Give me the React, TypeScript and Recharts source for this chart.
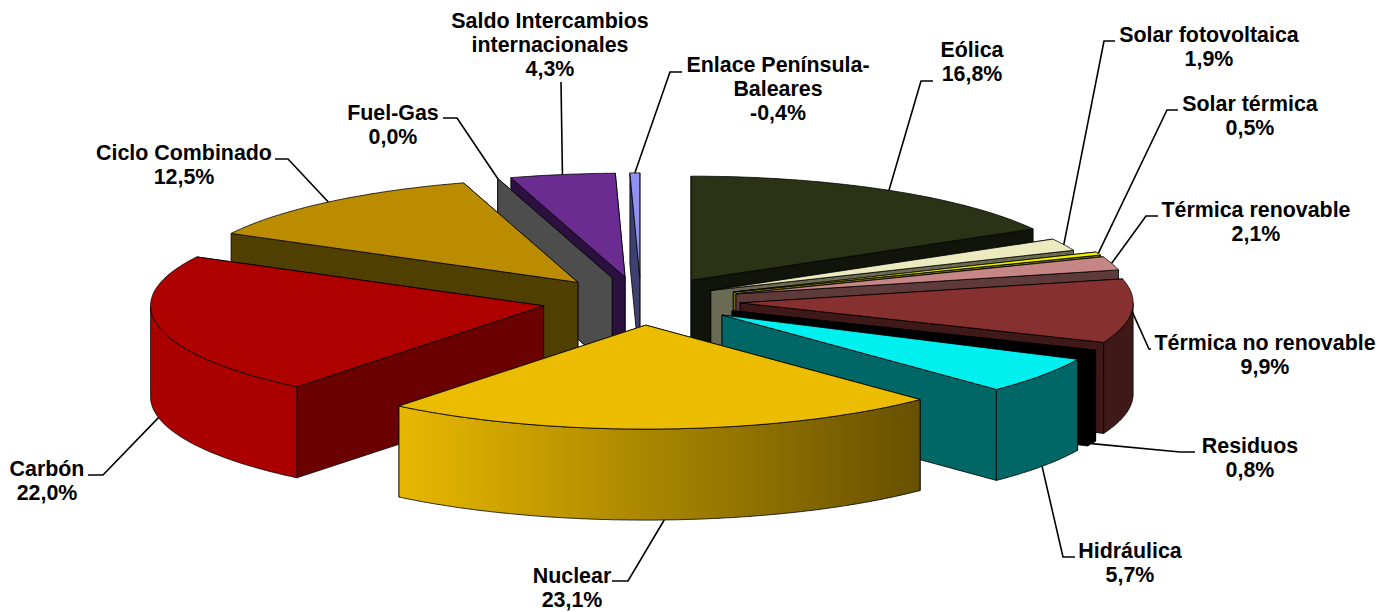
import React from 'react'
import { PieChart, Pie } from 'recharts'

const CATEGORIES = [
  'Eólica',
  'Solar fotovoltaica',
  'Solar térmica',
  'Térmica renovable',
  'Térmica no renovable',
  'Residuos',
  'Hidráulica',
  'Nuclear',
  'Carbón',
  'Ciclo Combinado',
  'Fuel-Gas',
  'Saldo Intercambios internacionales',
  'Enlace Península-Baleares'
]
const SHARES = [16.8, 1.9, 0.5, 2.1, 9.9, 0.8, 5.7, 23.1, 22.0, 12.5, 0.0, 4.3, -0.4]

const TOP_COLORS = ['#2b3316', '#ebebbf', '#f0f000', '#c68686', '#873030', '#000000', '#00f0f0', '#ecbc00', '#af0000', '#bc8c00', '#4d4d4d', '#6a2c91', '#9090f0']
const WALL_COLORS = ['#10140a', '#6b6b55', '#6b6b00', '#5e3a3a', '#3f1818', '#000000', '#006666', '#665000', '#6b0000', '#4f3f00', '#4d4d4d', '#2b1040', '#3f4070']
const RIM_COLORS = ['#10140a', '#6b6b55', '#6b6b00', '#5e3a3a', '#3f1818', '#000000', '#006666', 'url(#nuclearRim)', '#ab0000', '#4f3f00', '#4d4d4d', '#2b1040', '#3f4070']

// back to front
const PAINT_ORDER = [0, 1, 2, 3, 4, 5, 6, 12, 11, 10, 9, 8, 7]

// sideways pull-out of each slice, as a share of the radius
const EXPLODE_X = [0.253, 0.198, 0.253, 0.253, 0.253, 0.253, 0.253, 0.253, 0.253, 0.253, 0.253, 0.253, 0.253]

const LABEL_LINES = [
  ['Eólica'],
  ['Solar fotovoltaica'],
  ['Solar térmica'],
  ['Térmica renovable'],
  ['Térmica no renovable'],
  ['Residuos'],
  ['Hidráulica'],
  ['Nuclear'],
  ['Carbón'],
  ['Ciclo Combinado'],
  ['Fuel-Gas'],
  ['Saldo Intercambios', 'internacionales'],
  ['Enlace Península-', 'Baleares']
]
const LABEL_X = [972, 1209, 1250, 1256, 1265, 1250, 1130, 572, 47, 184, 393, 550, 778]
const LABEL_Y = [50, 35, 104, 210, 343, 446, 551, 576, 469, 153, 113, 21, 65]
// leader bend and end, after leaving the rim
const LEADER_POINTS = [
  [[921, 81], [933, 81]],
  [[1104, 41], [1115, 41]],
  [[1167, 110], [1178, 110]],
  [[1146, 216], [1158, 216]],
  [[1149, 349], [1151, 349]],
  [[1180, 452], [1195, 452]],
  [[1063, 557], [1075, 557]],
  [[628, 581], [612, 581]],
  [[103, 475], [88, 475]],
  [[288, 159], [275, 159]],
  [[457, 118], [443, 118]],
  [[561, 82], [561, 82]],
  [[670, 72], [682, 72]]
]

const WIDTH = 1394
const HEIGHT = 612
const SQUASH = 0.2646
const EXPLODE_Y = 0.232
const DEPTH = 91
const RAD = Math.PI / 180

const tableData = CATEGORIES.map((name, i) => ({ name, idx: i, value: Math.abs(SHARES[i]) }))

const apexOf = (p: any, i: number) => {
  const ry = p.outerRadius * SQUASH
  return {
    x: p.cx + p.outerRadius * EXPLODE_X[i] * Math.cos(p.midAngle * RAD),
    y: p.cy - ry * EXPLODE_Y * Math.sin(p.midAngle * RAD),
    rx: p.outerRadius,
    ry
  }
}

const toPath = (pts: number[][]) => 'M' + pts.map((q) => q[0].toFixed(1) + ' ' + q[1].toFixed(1)).join('L') + 'Z'

const Slice = ({ p, i }: { p: any; i: number }) => {
  const { x, y, rx, ry } = apexOf(p, i)
  const at = (deg: number) => [x + rx * Math.cos(deg * RAD), y - ry * Math.sin(deg * RAD)]
  const down = (q: number[]) => [q[0], q[1] + DEPTH]

  const arc: number[][] = []
  const front: number[][] = []
  const steps = Math.max(1, Math.ceil(Math.abs(p.endAngle - p.startAngle) / 0.5))
  for (let s = 0; s <= steps; s++) {
    const a = p.startAngle + ((p.endAngle - p.startAngle) * s) / steps
    arc.push(at(a))
    if (Math.sin(a * RAD) <= 0) front.push(at(a))
  }
  const apex = [x, y]
  const ends = [arc[0], arc[arc.length - 1]].sort((a, b) => a[1] - b[1])
  const edge = { stroke: '#000', strokeWidth: 0.8, strokeLinejoin: 'round' as const }

  return (
    <g>
      <defs>
        <linearGradient id="nuclearRim" gradientUnits="userSpaceOnUse" x1={399} x2={921} y1={0} y2={0}>
          <stop offset="0%" stopColor="#e8b800" />
          <stop offset="100%" stopColor="#665000" />
        </linearGradient>
      </defs>
      {ends.map((end, n) => (
        <path key={n} d={toPath([apex, end, down(end), down(apex)])} fill={WALL_COLORS[i]} {...edge} />
      ))}
      {front.length > 1 && (
        <path d={toPath([...front, ...front.slice().reverse().map(down)])} fill={RIM_COLORS[i]} {...edge} />
      )}
      {steps > 1 && <path d={toPath([apex, ...arc])} fill={TOP_COLORS[i]} {...edge} />}
    </g>
  )
}

const renderLabel = (p: any) => {
  const i = p.idx ?? p.index ?? p.payload?.idx
  const { x, y, rx, ry } = apexOf(p, i)
  const cosA = Math.cos(p.midAngle * RAD)
  const sinA = Math.sin(p.midAngle * RAD)
  const startX = x + rx * cosA
  let startY = y - ry * sinA
  if (sinA < -0.15) startY += DEPTH
  const bend = LEADER_POINTS[i]
  const pct = SHARES[i].toFixed(1).replace('.', ',') + '%'
  const lines = [...LABEL_LINES[i], pct]
  return (
    <g key={CATEGORIES[i]}>
      <polyline
        points={[[startX, startY], ...bend].map((q) => q.join(',')).join(' ')}
        fill="none"
        stroke="#000"
        strokeWidth={1.6}
      />
      <text
        x={LABEL_X[i]}
        y={LABEL_Y[i]}
        textAnchor="middle"
        fontFamily="'Liberation Sans', Arial, sans-serif"
        fontWeight="bold"
        fontSize={21.4}
        fill="#000"
      >
        {lines.map((t, n) => (
          <tspan key={n} x={LABEL_X[i]} y={LABEL_Y[i] + n * 24} dominantBaseline="central">
            {t}
          </tspan>
        ))}
      </text>
    </g>
  )
}

const commonPie = {
  data: tableData,
  dataKey: 'value',
  nameKey: 'name',
  cx: 641,
  cy: 301,
  innerRadius: 0,
  outerRadius: 393,
  startAngle: 90,
  endAngle: -270,
  isAnimationActive: false,
  legendType: 'none' as const
}

const App = () => (
  <div style={{ position: 'absolute', left: 0, top: 0, width: WIDTH, height: HEIGHT, background: '#fff' }}>
    <PieChart width={WIDTH} height={HEIGHT} margin={{ top: 0, right: 0, bottom: 0, left: 0 }}>
      {PAINT_ORDER.map((i) => (
        <Pie
          key={i}
          {...commonPie}
          shape={(p: any) => ((p.idx ?? p.payload?.idx) === i ? <Slice p={p} i={i} /> : <g />)}
        />
      ))}
      <Pie {...commonPie} shape={() => <g />} label={renderLabel} labelLine={false} />
    </PieChart>
  </div>
)

export default App
